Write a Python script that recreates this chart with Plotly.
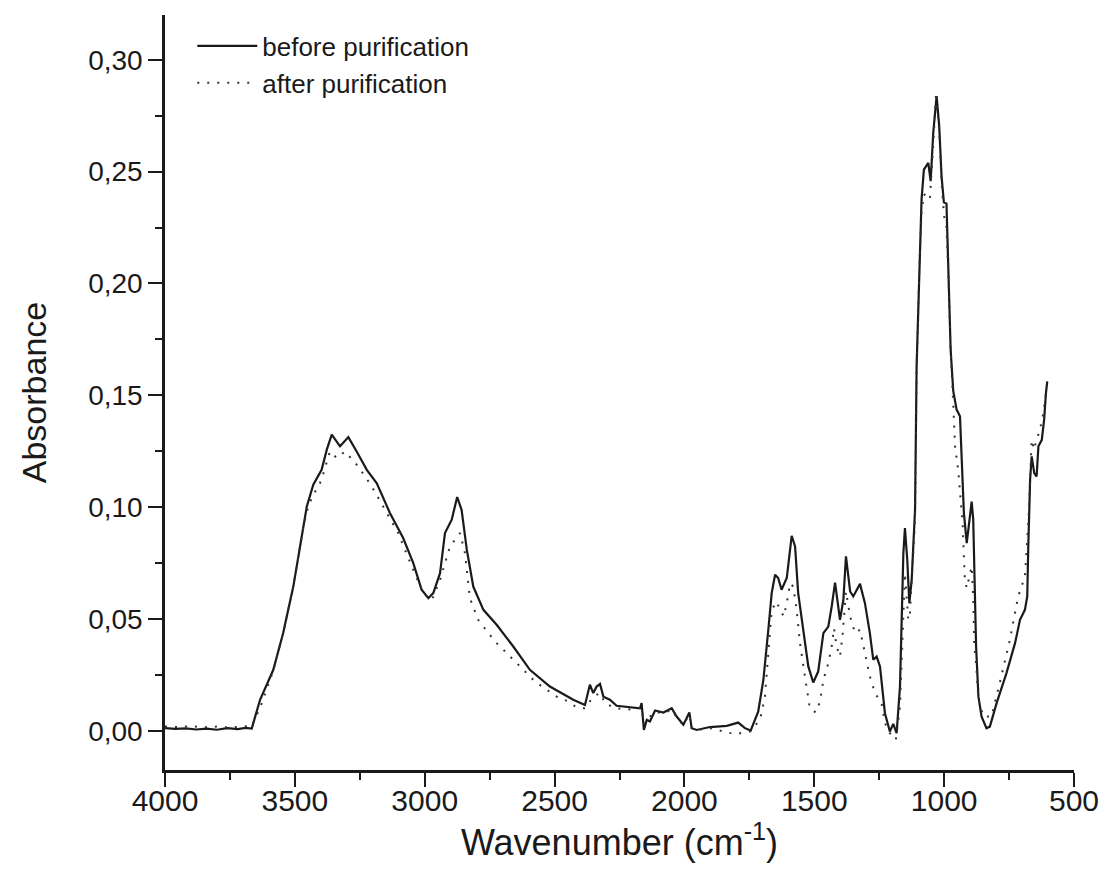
import plotly.graph_objects as go

# ---- data: before purification (solid) ----
wn_before = [4000, 3960, 3920, 3880, 3840, 3800, 3760, 3720, 3690, 3666, 3634, 3583, 3545, 3506,
             3480, 3454, 3429, 3397, 3377, 3358, 3326, 3294, 3262, 3223, 3185, 3134, 3083, 3044,
             3012, 2986, 2967, 2941, 2922, 2896, 2875, 2858, 2838, 2813, 2774, 2723, 2659, 2595,
             2518, 2447, 2428, 2383, 2364, 2351, 2338, 2325, 2312, 2287, 2261, 2171, 2165, 2156,
             2145, 2133, 2113, 2081, 2049, 2030, 2004, 1981, 1972, 1953, 1902, 1837, 1793, 1767,
             1745, 1716, 1696, 1677, 1664, 1651, 1639, 1626, 1606, 1587, 1574, 1562, 1542, 1523,
             1504, 1485, 1465, 1446, 1433, 1420, 1401, 1388, 1378, 1362, 1350, 1324, 1305, 1286,
             1273, 1260, 1247, 1228, 1209, 1196, 1183, 1170, 1157, 1151, 1142, 1134, 1125, 1112,
             1106, 1096, 1087, 1078, 1061, 1052, 1042, 1029, 1019, 1010, 1001, 991, 984, 975,
             965, 952, 939, 933, 924, 913, 903, 894, 888, 884, 877, 868, 856, 837, 824, 798, 760,
             727, 708, 689, 680, 676, 669, 663, 653, 644, 637, 624, 615, 608, 603]
abs_before = [0.0012, 0.0009, 0.0011, 0.0006, 0.0010, 0.0005, 0.0012, 0.0008, 0.0013, 0.0010,
              0.0139, 0.0273, 0.0437, 0.0645, 0.0824, 0.1003, 0.1100, 0.1167, 0.1257, 0.1324,
              0.1272, 0.1313, 0.1249, 0.1167, 0.1108, 0.0974, 0.0862, 0.0750, 0.0631, 0.0593,
              0.0616, 0.0705, 0.0884, 0.0944, 0.1045, 0.0988, 0.0810, 0.0645, 0.0541, 0.0474,
              0.0377, 0.0273, 0.0198, 0.0153, 0.0139, 0.0116, 0.0206, 0.0169, 0.0198, 0.0210,
              0.0153, 0.0139, 0.0112, 0.0101, 0.0124, 0.0004, 0.0049, 0.0042, 0.0091, 0.0082,
              0.0101, 0.0064, 0.0027, 0.0082, 0.0012, 0.0004, 0.0017, 0.0022, 0.0037, 0.0012,
              0.0001, 0.0086, 0.0228, 0.0452, 0.0616, 0.0698, 0.0683, 0.0631, 0.0683, 0.0872,
              0.0824, 0.0616, 0.0437, 0.0288, 0.0216, 0.0265, 0.0437, 0.0466, 0.0556, 0.0663,
              0.0496, 0.0586, 0.0780, 0.0623, 0.0601, 0.0657, 0.0571, 0.0437, 0.0318, 0.0332,
              0.0288, 0.0079, -0.0003, 0.0031, -0.0010, 0.0198, 0.0795, 0.0906, 0.0765, 0.0571,
              0.0675, 0.0990, 0.1630, 0.2077, 0.2375, 0.2509, 0.2539, 0.2457, 0.2673, 0.2837,
              0.2703, 0.2479, 0.2363, 0.2357, 0.2077, 0.1704, 0.1520, 0.1436, 0.1406, 0.1197,
              0.0974, 0.0839, 0.0944, 0.1025, 0.0944, 0.0675, 0.0377, 0.0153, 0.0064, 0.0012,
              0.0019, 0.0124, 0.0258, 0.0392, 0.0496, 0.0541, 0.0601, 0.0824, 0.1123, 0.1227,
              0.1152, 0.1137, 0.1272, 0.1301, 0.1391, 0.1510, 0.1562]

# ---- data: after purification (dotted) ----
wn_after = [4000, 3950, 3900, 3850, 3800, 3750, 3700, 3666, 3634, 3583, 3545, 3506, 3467, 3448,
            3429, 3403, 3390, 3365, 3339, 3307, 3256, 3204, 3160, 3102, 3050, 3006, 2973, 2941,
            2903, 2864, 2845, 2826, 2794, 2729, 2646, 2575, 2492, 2447, 2420, 2383, 2351, 2325,
            2306, 2267, 2200, 2165, 2156, 2145, 2113, 2081, 2049, 2030, 2004, 1981, 1972, 1950,
            1900, 1843, 1806, 1748, 1709, 1690, 1677, 1664, 1645, 1632, 1617, 1600, 1594, 1581,
            1568, 1555, 1536, 1517, 1494, 1478, 1465, 1446, 1433, 1424, 1414, 1401, 1391, 1378,
            1362, 1343, 1324, 1305, 1286, 1266, 1241, 1228, 1209, 1186, 1170, 1151, 1138, 1132,
            1125, 1112, 1106, 1096, 1087, 1078, 1063, 1055, 1042, 1031, 1019, 1010, 1000, 991,
            984, 975, 965, 958, 946, 937, 929, 924, 920, 913, 903, 894, 888, 884, 877, 868, 849,
            818, 786, 747, 715, 689, 676, 669, 663, 653, 644, 634, 618, 605]
abs_after = [0.0020, 0.0017, 0.0021, 0.0016, 0.0019, 0.0015, 0.0020, 0.0022, 0.0103, 0.0270,
             0.0437, 0.0645, 0.0914, 0.1006, 0.1055, 0.1108, 0.1152, 0.1249, 0.1220, 0.1249,
             0.1182, 0.1093, 0.1003, 0.0884, 0.0735, 0.0616, 0.0583, 0.0675, 0.0824, 0.0884,
             0.0795, 0.0593, 0.0496, 0.0399, 0.0303, 0.0220, 0.0153, 0.0131, 0.0109, 0.0100,
             0.0153, 0.0169, 0.0124, 0.0101, 0.0095, 0.0105, 0.0030, 0.0050, 0.0085, 0.0078,
             0.0095, 0.0060, 0.0025, 0.0075, 0.0012, 0.0004, 0.0012, -0.0006, -0.0015, -0.0003,
             0.0049, 0.0153, 0.0347, 0.0541, 0.0578, 0.0541, 0.0511, 0.0608, 0.0660, 0.0645,
             0.0541, 0.0392, 0.0243, 0.0101, 0.0082, 0.0131, 0.0228, 0.0303, 0.0377, 0.0459,
             0.0377, 0.0332, 0.0429, 0.0623, 0.0511, 0.0437, 0.0452, 0.0347, 0.0243, 0.0169,
             0.0124, 0.0034, -0.0010, -0.0040, 0.0109, 0.0705, 0.0496, 0.0520, 0.0650, 0.0940,
             0.1600, 0.2050, 0.2320, 0.2400, 0.2380, 0.2375, 0.2620, 0.2855, 0.2680, 0.2450,
             0.2300, 0.2250, 0.2050, 0.1700, 0.1466, 0.1270, 0.1167, 0.1048, 0.0929, 0.0780,
             0.0675, 0.0638, 0.0690, 0.0735, 0.0600, 0.0377, 0.0300, 0.0140, 0.0064, 0.0064,
             0.0213, 0.0407, 0.0601, 0.0690, 0.0929, 0.1152, 0.1301, 0.1257, 0.1309, 0.1331,
             0.1421, 0.1540]

series_names = ["before purification", "after purification"]
x_ticks = [4000, 3500, 3000, 2500, 2000, 1500, 1000, 500]
y_ticks = [0.00, 0.05, 0.10, 0.15, 0.20, 0.25, 0.30]

FONT = "Liberation Sans, Arial, sans-serif"
INK = "#1a1a1a"

fig = go.Figure()
fig.add_trace(go.Scatter(x=wn_before, y=abs_before, mode="lines", name=series_names[0],
                         line=dict(color=INK, width=2.2)))
fig.add_trace(go.Scatter(x=wn_after, y=abs_after, mode="lines", name=series_names[1],
                         line=dict(color="#333333", width=2, dash="2px,8px")))

fig.update_layout(
    width=1104, height=871,
    margin=dict(l=165, r=30, t=15, b=101, autoexpand=False),
    paper_bgcolor="white", plot_bgcolor="white",
    separators=",.",
    font=dict(family=FONT, color=INK, size=28),
    showlegend=True,
    legend=dict(x=0.03, y=0.99, xanchor="left", yanchor="top",
                font=dict(size=26, family=FONT, color=INK),
                bgcolor="rgba(0,0,0,0)", itemwidth=60, tracegroupgap=0),
)
fig.update_xaxes(
    range=[4000, 500], tickvals=x_ticks, ticktext=[str(v) for v in x_ticks],
    automargin=False,
    showline=True, linecolor=INK, linewidth=2.5, showgrid=False, zeroline=False,
    ticks="outside", ticklen=14, tickwidth=2, tickcolor=INK,
    ticklabelstandoff=-12,
    tickfont=dict(size=30, family=FONT, color=INK),
    minor=dict(ticks="outside", ticklen=7, tickwidth=2, tickcolor=INK, dtick=250, tick0=500, showgrid=False),
    title=dict(text="Wavenumber (cm<sup>-1</sup>)", font=dict(size=36, family=FONT, color=INK), standoff=7),
)
fig.update_yaxes(
    range=[-0.0175, 0.32], tickvals=y_ticks, tickformat=".2f",
    automargin=False,
    showline=True, linecolor=INK, linewidth=2.5, showgrid=False, zeroline=False,
    ticks="outside", ticklen=14, tickwidth=2, tickcolor=INK,
    tickfont=dict(size=28, family=FONT, color=INK),
    minor=dict(ticks="outside", ticklen=7, tickwidth=2, tickcolor=INK, dtick=0.025, tick0=0, showgrid=False),
    title=dict(text="Absorbance", font=dict(size=34, family=FONT, color=INK), standoff=32),
)

fig.write_html("out.html")
